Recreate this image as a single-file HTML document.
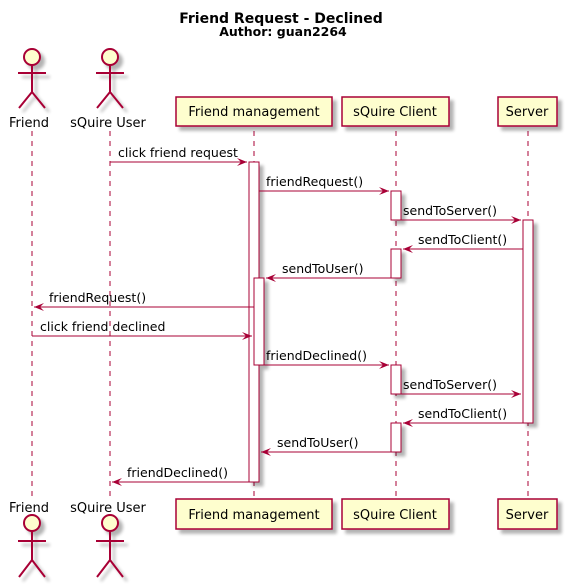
<!DOCTYPE html>
<html><head><meta charset="utf-8"><style>
html,body{margin:0;padding:0;background:#fff;width:566px;height:586px;overflow:hidden}
svg text{font-family:"DejaVu Sans","Liberation Sans",sans-serif;}
</style></head><body>
<svg width="566" height="586" viewBox="0 0 566 586" xmlns="http://www.w3.org/2000/svg">
<defs>
<filter id="sh" x="-20%" y="-20%" width="150%" height="150%"><feGaussianBlur in="SourceAlpha" stdDeviation="1.5"/><feOffset dx="4" dy="4"/><feComponentTransfer><feFuncA type="linear" slope="0.3"/></feComponentTransfer><feMerge><feMergeNode/><feMergeNode in="SourceGraphic"/></feMerge></filter>
</defs>
<text x="281" y="23" font-size="14" font-weight="bold" text-anchor="middle">Friend Request - Declined</text>
<text x="283" y="36" font-size="12.5" font-weight="bold" text-anchor="middle">Author: guan2264</text>
<g stroke="#A80036" stroke-dasharray="5,5" stroke-width="1">
<line x1="32" y1="131" x2="32" y2="497"/>
<line x1="110" y1="131" x2="110" y2="497"/>
<line x1="254" y1="131" x2="254" y2="497"/>
<line x1="396" y1="131" x2="396" y2="497"/>
<line x1="528" y1="131" x2="528" y2="497"/>
</g>
<g stroke="#A80036" stroke-width="2" fill="#FEFECE" filter="url(#sh)">
<circle cx="32" cy="57" r="8"/>
<path d="M32 65 V92 M18 73 H46 M32 92 L19 108 M32 92 L45 108" fill="none"/>
<circle cx="110" cy="57" r="8"/>
<path d="M110 65 V92 M96 73 H124 M110 92 L97 108 M110 92 L123 108" fill="none"/>
<circle cx="32" cy="523" r="8"/>
<path d="M32 531 V560 M18 541 H46 M32 560 L19 577 M32 560 L45 577" fill="none"/>
<circle cx="110" cy="523" r="8"/>
<path d="M110 531 V560 M96 541 H124 M110 560 L97 577 M110 560 L123 577" fill="none"/>
</g>
<g font-size="13" text-anchor="middle" fill="#000">
<text x="29" y="127">Friend</text>
<text x="108" y="127">sQuire User</text>
<text x="29" y="512">Friend</text>
<text x="108" y="512">sQuire User</text>
</g>
<g fill="#FEFECE" stroke="#A80036" stroke-width="1.5" filter="url(#sh)">
<rect x="176" y="97" width="156" height="29"/>
<rect x="342" y="97" width="107" height="29"/>
<rect x="498" y="97" width="59" height="29"/>
<rect x="176" y="499" width="156" height="30"/>
<rect x="342" y="499" width="107" height="30"/>
<rect x="498" y="499" width="59" height="30"/>
</g>
<g font-size="13" text-anchor="middle">
<text x="254" y="116">Friend management</text>
<text x="395" y="116">sQuire Client</text>
<text x="527" y="116">Server</text>
<text x="254" y="519">Friend management</text>
<text x="395" y="519">sQuire Client</text>
<text x="527" y="519">Server</text>
</g>
<g fill="#fff" stroke="#A80036" stroke-width="1" filter="url(#sh)">
<rect x="249" y="162" width="10" height="320"/>
<rect x="523" y="220" width="10" height="203"/>
<rect x="254" y="278" width="10" height="87"/>
<rect x="391" y="191" width="10" height="29"/>
<rect x="391" y="249" width="10" height="29"/>
<rect x="391" y="365" width="10" height="29"/>
<rect x="391" y="423" width="10" height="29"/>
</g>
<g stroke="#A80036" stroke-width="1">
<line x1="110" y1="162" x2="247" y2="162"/>
<line x1="259" y1="191" x2="389" y2="191"/>
<line x1="401" y1="220" x2="521" y2="220"/>
<line x1="523" y1="249" x2="403" y2="249"/>
<line x1="391" y1="278" x2="266" y2="278"/>
<line x1="254" y1="307" x2="34" y2="307"/>
<line x1="32" y1="336" x2="252" y2="336"/>
<line x1="264" y1="365" x2="389" y2="365"/>
<line x1="401" y1="394" x2="521" y2="394"/>
<line x1="523" y1="423" x2="403" y2="423"/>
<line x1="391" y1="452" x2="261" y2="452"/>
<line x1="249" y1="482" x2="112" y2="482"/>
</g>
<g fill="#A80036">
<polygon points="237,158 247,162 237,166 241,162"/>
<polygon points="379,187 389,191 379,195 383,191"/>
<polygon points="511,216 521,220 511,224 515,220"/>
<polygon points="413,245 403,249 413,253 409,249"/>
<polygon points="276,274 266,278 276,282 272,278"/>
<polygon points="44,303 34,307 44,311 40,307"/>
<polygon points="242,332 252,336 242,340 246,336"/>
<polygon points="379,361 389,365 379,369 383,365"/>
<polygon points="511,390 521,394 511,398 515,394"/>
<polygon points="413,419 403,423 413,427 409,423"/>
<polygon points="271,448 261,452 271,456 267,452"/>
<polygon points="122,478 112,482 122,486 118,482"/>
</g>
<g font-size="12.5">
<text x="118" y="157">click friend request</text>
<text x="266" y="186">friendRequest()</text>
<text x="403" y="215">sendToServer()</text>
<text x="418" y="244">sendToClient()</text>
<text x="282" y="273">sendToUser()</text>
<text x="49" y="302">friendRequest()</text>
<text x="40" y="331">click friend declined</text>
<text x="266" y="360">friendDeclined()</text>
<text x="403" y="389">sendToServer()</text>
<text x="418" y="418">sendToClient()</text>
<text x="277" y="447">sendToUser()</text>
<text x="127" y="477">friendDeclined()</text>
</g>
</svg>
</body></html>
